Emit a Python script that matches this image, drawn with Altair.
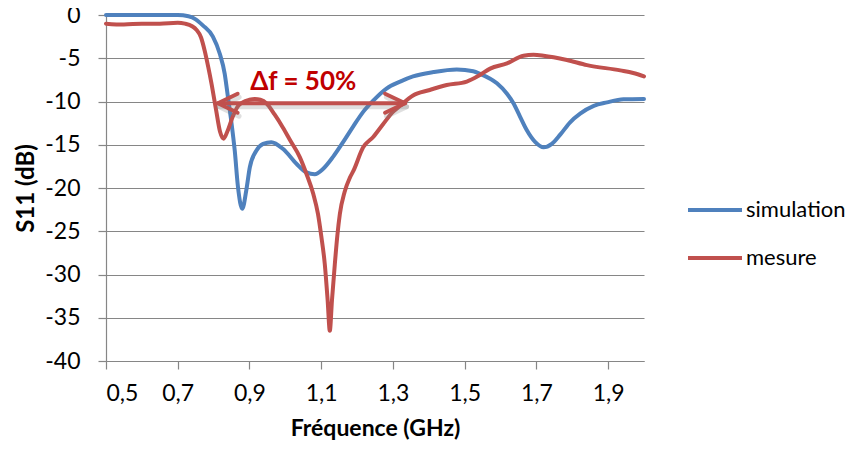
import altair as alt
import pandas as pd

# ---- data ----
sim_freq = [0.50, 0.60, 0.70, 0.73, 0.75, 0.77, 0.798, 0.817, 0.831, 0.840, 0.849, 0.859, 0.868,
            0.880, 0.891, 0.901, 0.919, 0.938, 0.961, 0.994, 1.031, 1.059, 1.082, 1.105, 1.133,
            1.161, 1.189, 1.217, 1.245, 1.282, 1.320, 1.356, 1.413, 1.478, 1.524, 1.543, 1.590,
            1.618, 1.636, 1.655, 1.673, 1.697, 1.720, 1.743, 1.767, 1.794, 1.822, 1.860, 1.897,
            1.943, 2.00]
sim_s11 = [0.0, 0.0, 0.0, -0.15, -0.5, -1.2, -2.5, -4.45, -6.8, -9.5, -12.2, -15.7, -19.9,
           -22.4, -20.3, -17.6, -15.7, -14.9, -14.7, -15.5, -17.2, -18.2, -18.4, -17.8, -16.4,
           -14.7, -12.9, -11.2, -9.9, -8.5, -7.7, -7.1, -6.6, -6.3, -6.5, -6.8, -7.9,
           -9.1, -10.2, -11.8, -13.3, -14.7, -15.3, -14.9, -13.8, -12.4, -11.4, -10.5, -10.1,
           -9.75, -9.7]

mes_freq = [0.50, 0.55, 0.60, 0.65, 0.70, 0.72, 0.74, 0.752, 0.765, 0.775, 0.785, 0.794, 0.807,
            0.818, 0.828, 0.838, 0.853, 0.867, 0.881, 0.900, 0.915, 0.930, 0.947, 0.970, 0.993,
            1.015, 1.040, 1.060, 1.078, 1.091, 1.100, 1.110, 1.118, 1.124, 1.130, 1.138, 1.145,
            1.152, 1.165, 1.180, 1.190, 1.217, 1.245, 1.273, 1.300, 1.320, 1.356, 1.400, 1.450,
            1.506, 1.540, 1.571, 1.618, 1.664, 1.692, 1.720, 1.785, 1.841, 1.934, 1.970, 2.00]
mes_s11 = [-1.0, -1.1, -1.0, -1.0, -0.9, -1.0, -1.3, -1.7, -2.6, -4.1, -6.0, -7.9, -11.0,
           -13.5, -14.3, -13.5, -11.8, -10.6, -10.1, -9.8, -9.7, -9.8, -10.2, -11.5, -13.0,
           -14.6, -16.4, -18.5, -20.7, -23.0, -25.5, -28.8, -33.0, -36.5, -33.0, -28.8, -25.5,
           -23.0, -20.5, -18.8, -18.0, -15.3, -14.1, -12.6, -11.2, -10.5, -9.3, -8.7, -8.1,
           -7.7, -7.0, -6.2, -5.6, -4.7, -4.6, -4.7, -5.2, -5.8, -6.4, -6.7, -7.1]

series_names = ["simulation", "mesure"]
series_colors = ["#4F81BD", "#C0504D"]

x_ticks = [0.5, 0.7, 0.9, 1.1, 1.3, 1.5, 1.7, 1.9]
y_ticks = [0, -5, -10, -15, -20, -25, -30, -35, -40]

# annotation: double arrow at -10 dB between 0.812 and 1.334 GHz
arrow_seg = ["shaft", "shaft", "left", "left", "left", "right", "right", "right"]
arrow_ord = [0, 1, 0, 1, 2, 0, 1, 2]
arrow_f = [0.812, 1.334, 0.867, 0.812, 0.867, 1.278, 1.334, 1.278]
arrow_db = [-10.2, -10.2, -9.1, -10.2, -11.3, -9.1, -10.2, -11.3]
label_text = ["Δf = 50%"]
label_f = [1.05]
label_db = [-7.7]

# ---- tables ----
df = pd.concat([
    pd.DataFrame({"f": sim_freq, "s11": sim_s11, "serie": series_names[0]}),
    pd.DataFrame({"f": mes_freq, "s11": mes_s11, "serie": series_names[1]}),
], ignore_index=True)

arrow_df = pd.DataFrame({"seg": arrow_seg, "o": arrow_ord, "f": arrow_f, "s11": arrow_db})
shadow_df = arrow_df.assign(f=arrow_df["f"] + 0.004, s11=arrow_df["s11"] - 0.4)
label_df = pd.DataFrame({"t": label_text, "f": label_f, "s11": label_db})

FONT = "Lato"
xscale = alt.Scale(domain=[0.5, 2.0], nice=False, zero=False)
yscale = alt.Scale(domain=[-40, 0], nice=False, zero=False)

x_enc = alt.X("f:Q", scale=xscale,
              axis=alt.Axis(values=x_ticks, grid=False, title="Fréquence (GHz)",
                            labelExpr="replace(format(datum.value, '.1f'), '.', ',')",
                            tickSize=8, labelPadding=13, titlePadding=12, titleFontSize=23))
y_enc = alt.Y("s11:Q", scale=yscale,
              axis=alt.Axis(values=y_ticks, grid=True, title="S11 (dB)",
                            labelExpr="datum.value == 0 ? '0' : '-' + abs(datum.value)",
                            tickSize=8, labelPadding=18, titlePadding=6))

lines = alt.Chart(df).mark_line(strokeWidth=4, interpolate="monotone",
                                strokeCap="round", strokeJoin="round").encode(
    x=x_enc, y=y_enc,
    color=alt.Color("serie:N",
                    scale=alt.Scale(domain=series_names, range=series_colors),
                    legend=alt.Legend(title=None, orient="none", legendX=580, legendY=166,
                                      symbolType="stroke", symbolSize=2916,
                                      symbolStrokeWidth=4, labelFontSize=22,
                                      labelFont=FONT, labelColor="#000000",
                                      labelOffset=2, rowPadding=8, padding=0)),
    detail="serie:N",
)

shadow = alt.Chart(shadow_df).mark_line(strokeWidth=5, color="#7f7f7f", opacity=0.25,
                                        strokeCap="round", strokeJoin="round").encode(
    x=alt.X("f:Q", scale=xscale), y=alt.Y("s11:Q", scale=yscale),
    detail="seg:N", order="o:Q")

arrow = alt.Chart(arrow_df).mark_line(strokeWidth=4, color="#C0504D",
                                      strokeCap="round", strokeJoin="round").encode(
    x=alt.X("f:Q", scale=xscale), y=alt.Y("s11:Q", scale=yscale),
    detail="seg:N", order="o:Q")

label = alt.Chart(label_df).mark_text(font=FONT, fontSize=26, fontWeight="bold",
                                      color="#C00000", align="center",
                                      baseline="middle").encode(
    x=alt.X("f:Q", scale=xscale), y=alt.Y("s11:Q", scale=yscale), text="t:N")

chart = alt.layer(lines, shadow, arrow, label).properties(
    width=538, height=346,
    autosize=alt.AutoSizeParams(type="none"),
    padding={"left": 98, "top": 7, "right": 211, "bottom": 83},
).configure_view(stroke=None).configure_axis(
    domainColor="#868686", tickColor="#868686", gridColor="#868686",
    domainWidth=1.2, tickWidth=1.2, gridWidth=1.2,
    labelFont=FONT, labelFontSize=23, labelColor="#000000",
    titleFont=FONT, titleFontSize=24, titleFontWeight="bold", titleColor="#000000",
)

chart.save("out.html", embed_options={"renderer": "svg", "actions": False})
